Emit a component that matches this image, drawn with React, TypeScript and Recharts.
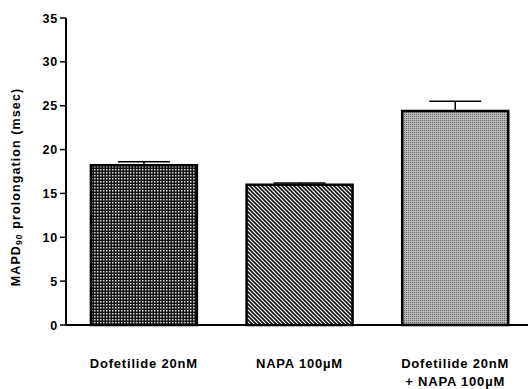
import { Bar, BarChart, Cell, ErrorBar, XAxis, YAxis } from "recharts";

const categories = ["Dofetilide 20nM", "NAPA 100µM", "Dofetilide 20nM\n+ NAPA 100µM"];
const prolongation = [18.2, 16.0, 24.4];
const sem = [0.4, 0.2, 1.1];
const yTicks = [0, 5, 10, 15, 20, 25, 30, 35];

const fills = ["url(#dots)", "url(#stripes)", "url(#grey)"];
const font = "'Liberation Sans', Arial, sans-serif";

const rows = categories.map((name, i) => ({
  name,
  value: prolongation[i],
  err: [0, sem[i]],
}));

function CategoryTick({ x, y, payload }: any) {
  const lines = String(payload.value).split("\n");
  return (
    <text x={x} y={y + 41} textAnchor="middle" fontFamily={font} fontWeight="bold" fontSize={13} letterSpacing={0.8} fill="#000">
      {lines.map((line, i) => (
        <tspan key={i} x={x} dy={i === 0 ? 0 : 17.5}>
          {line}
        </tspan>
      ))}
    </text>
  );
}

function ValueTick({ x, y, payload }: any) {
  return (
    <text x={x} y={y} dy={4.5} textAnchor="end" fontFamily={font} fontWeight="bold" fontSize={12.5} letterSpacing={0.8} fill="#000">
      {payload.value}
    </text>
  );
}

function AxisTitle() {
  return (
    <text x={20} y={187} transform="rotate(-90 20 187)" textAnchor="middle" fontFamily={font} fontWeight="bold" fontSize={12.5} letterSpacing={1.1} fill="#000">
      MAPD<tspan fontSize={8.5} dy={2}>90</tspan>
      <tspan dy={-2}> prolongation (msec)</tspan>
    </text>
  );
}

export default function App() {
  return (
    <div style={{ position: "absolute", left: 0, top: 0, background: "#fff" }}>
      <BarChart width={528} height={389} data={rows} margin={{ top: 18, right: -5, bottom: 0, left: 0 }} barCategoryGap="16%">
        <defs>
          <pattern id="dots" width={3} height={3} patternUnits="userSpaceOnUse">
            <rect width={3} height={3} fill="#151515" />
            <rect x={1} y={1} width={1.5} height={1.5} fill="#d8d8d8" />
          </pattern>
          <pattern id="stripes" width={4} height={4} patternUnits="userSpaceOnUse">
            <rect width={4} height={4} fill="#fff" />
            <path d="M-1,-1 L5,5 M-1,3 L1,5 M3,-1 L5,1" stroke="#111" strokeWidth={1.6} />
          </pattern>
          <pattern id="grey" width={2} height={2} patternUnits="userSpaceOnUse">
            <rect width={2} height={2} fill="#b8b8b8" />
            <rect width={1} height={1} fill="#6a6a6a" />
          </pattern>
        </defs>
        <XAxis
          dataKey="name"
          height={64}
          stroke="#000"
          strokeWidth={2}
          tickLine={false}
          tickSize={0}
          axisLine={{ stroke: "#000", strokeWidth: 2 }}
          tick={<CategoryTick />}
          interval={0}
        />
        <YAxis
          width={66}
          domain={[0, 35]}
          ticks={yTicks}
          interval={0}
          stroke="#000"
          strokeWidth={2}
          tickSize={6}
          tickMargin={2}
          axisLine={{ stroke: "#000", strokeWidth: 2 }}
          tickLine={{ stroke: "#000", strokeWidth: 1.5 }}
          tick={<ValueTick />}
          label={<AxisTitle />}
        />
        <Bar dataKey="value" stroke="#000" strokeWidth={2.5} isAnimationActive={false}>
          {rows.map((r, i) => (
            <Cell key={r.name} fill={fills[i]} />
          ))}
          <ErrorBar dataKey="err" direction="y" width={26} stroke="#000" strokeWidth={1.5} />
        </Bar>
      </BarChart>
    </div>
  );
}
